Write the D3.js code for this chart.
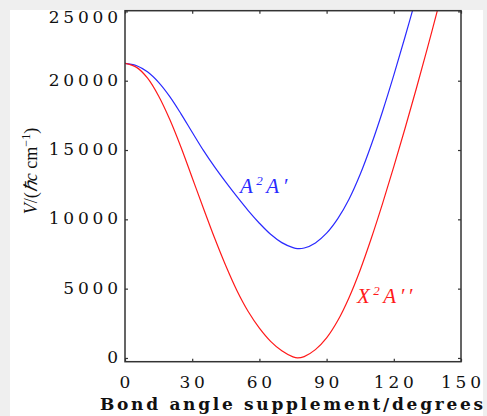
<!DOCTYPE html>
<html>
<head>
<meta charset="utf-8">
<script src="https://cdn.jsdelivr.net/npm/d3@7"></script>
<style>
  html, body { margin: 0; padding: 0; background: #efefef; }
  svg { display: block; }
</style>
</head>
<body>
<script>
// ---- data ----
const angles = [0,5,10,15,20,25,30,35,40,45,50,55,60,65,70,75,77,80,85,90,95,100,105,110,115,120,125,130,135,140];
const groundState = [21250,20980,20200,18900,17200,15200,13000,10800,8650,6650,4850,3350,2150,1200,520,80,0,100,600,1450,2700,4350,6350,8650,11150,13800,16550,19400,22350,25400];
const excitedState = [21250,21100,20640,19880,18850,17610,16280,14970,13780,12680,11630,10630,9720,8920,8320,7960,7890,7930,8300,9000,10050,11450,13250,15400,17800,20400,23150,26000,null,null];
const xTicks = [0,30,60,90,120,150];
const yTicks = [0,5000,10000,15000,20000,25000];

const W = 487, H = 416;
const plot = {left: 125, right: 461, top: 10.7, bottom: 361.7};

const svg = d3.select("body").append("svg").attr("width", W).attr("height", H);
svg.append("rect").attr("x", 0).attr("y", 0).attr("width", W).attr("height", H).attr("fill", "#efefef");
svg.append("rect").attr("x", 10).attr("y", 10).attr("width", 473).attr("height", H - 10).attr("fill", "#ffffff");

const x = d3.scaleLinear().domain([0, 150]).range([plot.left, plot.right]);
const y = d3.scaleLinear().domain([-270, 25050]).range([plot.bottom, plot.top]);

svg.append("clipPath").attr("id", "clip").append("rect")
  .attr("x", plot.left).attr("y", plot.top)
  .attr("width", plot.right - plot.left).attr("height", plot.bottom - plot.top);

const line = d3.line()
  .defined(d => d[1] !== null)
  .x(d => x(d[0])).y(d => y(d[1]))
  .curve(d3.curveCatmullRom.alpha(0.5));

const g = svg.append("g").attr("clip-path", "url(#clip)");
g.append("path").datum(angles.map((a, i) => [a, excitedState[i]]))
  .attr("d", line).attr("fill", "none").attr("stroke", "#2a2aff").attr("stroke-width", 1.2);
g.append("path").datum(angles.map((a, i) => [a, groundState[i]]))
  .attr("d", line).attr("fill", "none").attr("stroke", "#ff1a1a").attr("stroke-width", 1.2);

// axes with inward ticks on all sides
const tl = 3;
const axB = svg.append("g").attr("transform", `translate(0,${plot.bottom})`)
  .call(d3.axisBottom(x).tickValues(xTicks).tickSizeInner(-tl).tickSizeOuter(0).tickFormat(""));
const axT = svg.append("g").attr("transform", `translate(0,${plot.top})`)
  .call(d3.axisTop(x).tickValues(xTicks).tickSizeInner(-tl).tickSizeOuter(0).tickFormat(""));
const axL = svg.append("g").attr("transform", `translate(${plot.left},0)`)
  .call(d3.axisLeft(y).tickValues(yTicks).tickSizeInner(-tl).tickSizeOuter(0).tickFormat(""));
const axR = svg.append("g").attr("transform", `translate(${plot.right},0)`)
  .call(d3.axisRight(y).tickValues(yTicks).tickSizeInner(-tl).tickSizeOuter(0).tickFormat(""));
[axB, axT, axL, axR].forEach(a => {
  a.select(".domain").remove();
  a.selectAll(".tick line").attr("stroke", "#333").attr("stroke-width", 1.2);
});
svg.append("rect").attr("x", plot.left).attr("y", plot.top)
  .attr("width", plot.right - plot.left).attr("height", plot.bottom - plot.top)
  .attr("fill", "none").attr("stroke", "#333").attr("stroke-width", 1.5);

// tick labels
const tickFont = "'DejaVu Serif', serif";
const ls = 3.8;
svg.append("g").selectAll("text").data(xTicks).join("text")
  .attr("x", d => x(d) + ls / 2).attr("y", 382)
  .attr("text-anchor", "middle").attr("dominant-baseline", "central")
  .attr("font-family", tickFont).attr("font-size", 17).attr("letter-spacing", ls)
  .attr("fill", "#111").text(d => d);
svg.append("g").selectAll("text").data(yTicks).join("text")
  .attr("x", 118 + ls).attr("y", d => Math.max(y(d) - 1, 17))
  .attr("text-anchor", "end").attr("dominant-baseline", "central")
  .attr("font-family", tickFont).attr("font-size", 17).attr("letter-spacing", ls)
  .attr("fill", "#111").text(d => d);

// axis titles
svg.append("text").attr("x", 100).attr("y", 410)
  .attr("font-family", "'DejaVu Serif', serif").attr("font-weight", "bold").attr("font-size", 17)
  .attr("textLength", 383).attr("lengthAdjust", "spacing")
  .attr("fill", "#111").text("Bond angle supplement/degrees");

const yt = svg.append("text").attr("transform", "translate(37,171) rotate(-90)")
  .attr("text-anchor", "middle")
  .attr("font-family", "'Liberation Serif', serif").attr("font-size", 18).attr("fill", "#111");
yt.append("tspan").attr("font-style", "italic").text("V");
yt.append("tspan").text("/(");
yt.append("tspan").attr("font-style", "italic").text("ℏc");
yt.append("tspan").text(" cm");
yt.append("tspan").attr("font-size", 12).attr("dy", -7).text("−1");
yt.append("tspan").attr("dy", 7).text(")");

// state labels
function stateLabel(px, py, base, primes, color) {
  const t = svg.append("text").attr("x", px).attr("y", py)
    .attr("font-family", "'Liberation Serif', serif").attr("font-style", "italic")
    .attr("font-size", 21).attr("letter-spacing", 3.5).attr("fill", color);
  t.append("tspan").text(base);
  t.append("tspan").attr("font-size", 13).attr("dy", -8).text("2");
  t.append("tspan").attr("dy", 8).text("A" + primes);
}
stateLabel(240, 193, "A", "′", "#2a2aff");
stateLabel(357, 303, "X", "′′", "#ff1a1a");
</script>
</body>
</html>
